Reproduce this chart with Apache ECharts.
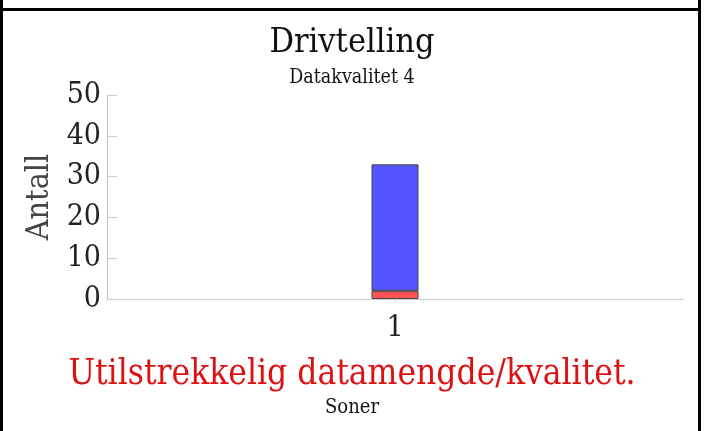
<!DOCTYPE html>
<html>
<head>
<meta charset="utf-8">
<script src="https://cdn.jsdelivr.net/npm/echarts@6/dist/echarts.min.js"></script>
<style>html,body{margin:0;padding:0;background:#fff}#c{width:704px;height:431px}</style>
</head>
<body>
<div id="c"></div>
<script>
var categories = ['1'];
var redValues = [2];
var blueValues = [31];
var yTicks = {min: 0, max: 50, interval: 10};

var chart = echarts.init(document.getElementById('c'), null, {renderer: 'canvas'});
var serif = '"DejaVu Serif Condensed", "DejaVu Serif", serif';
chart.setOption({
  animation: false,
  backgroundColor: '#fff',
  title: {
    text: 'Drivtelling',
    subtext: 'Datakvalitet 4',
    left: 'center',
    top: 21,
    itemGap: 8,
    textStyle: {fontFamily: serif, fontSize: 34, fontWeight: 'normal', color: '#111'},
    subtextStyle: {fontFamily: serif, fontSize: 19.5, color: '#111'}
  },
  grid: {left: 107, right: 21, top: 95, bottom: 132},
  xAxis: {
    type: 'category',
    data: categories,
    axisLine: {lineStyle: {color: '#ccc'}},
    axisTick: {show: true, alignWithLabel: true, length: 3, lineStyle: {color: '#ccc'}},
    axisLabel: {fontFamily: serif, fontSize: 30, color: '#222', margin: 14}
  },
  yAxis: {
    type: 'value',
    min: yTicks.min, max: yTicks.max, interval: yTicks.interval,
    name: 'Antall',
    nameLocation: 'middle',
    nameGap: 50,
    nameTextStyle: {fontFamily: serif, fontSize: 32, color: '#444'},
    splitLine: {show: false},
    axisLine: {show: true, lineStyle: {color: '#bbb'}},
    axisTick: {show: true, inside: true, length: 10, lineStyle: {color: '#ccc'}},
    axisLabel: {fontFamily: serif, fontSize: 30, color: '#222', margin: 6}
  },
  series: [
    {type: 'bar', stack: 's', data: redValues, barWidth: 47,
     itemStyle: {color: '#ff5252', borderColor: '#444', borderWidth: 1}},
    {type: 'bar', stack: 's', data: blueValues, barWidth: 47,
     itemStyle: {color: '#5252ff', borderColor: '#444', borderWidth: 1}}
  ],
  graphic: [
    {type: 'text', left: 'center', top: 357, style: {text: 'Utilstrekkelig datamengde/kvalitet.', font: '35px ' + serif, fill: '#dd1111'}},
    {type: 'text', left: 'center', top: 398, style: {text: 'Soner', font: '20px ' + serif, fill: '#111'}},
    {type: 'rect', shape: {x: 0, y: 0, width: 3, height: 431}, style: {fill: '#000'}},
    {type: 'rect', shape: {x: 0, y: 8, width: 701, height: 3}, style: {fill: '#000'}},
    {type: 'rect', shape: {x: 698, y: 0, width: 3, height: 431}, style: {fill: '#000'}}
  ]
});
</script>
</body>
</html>
